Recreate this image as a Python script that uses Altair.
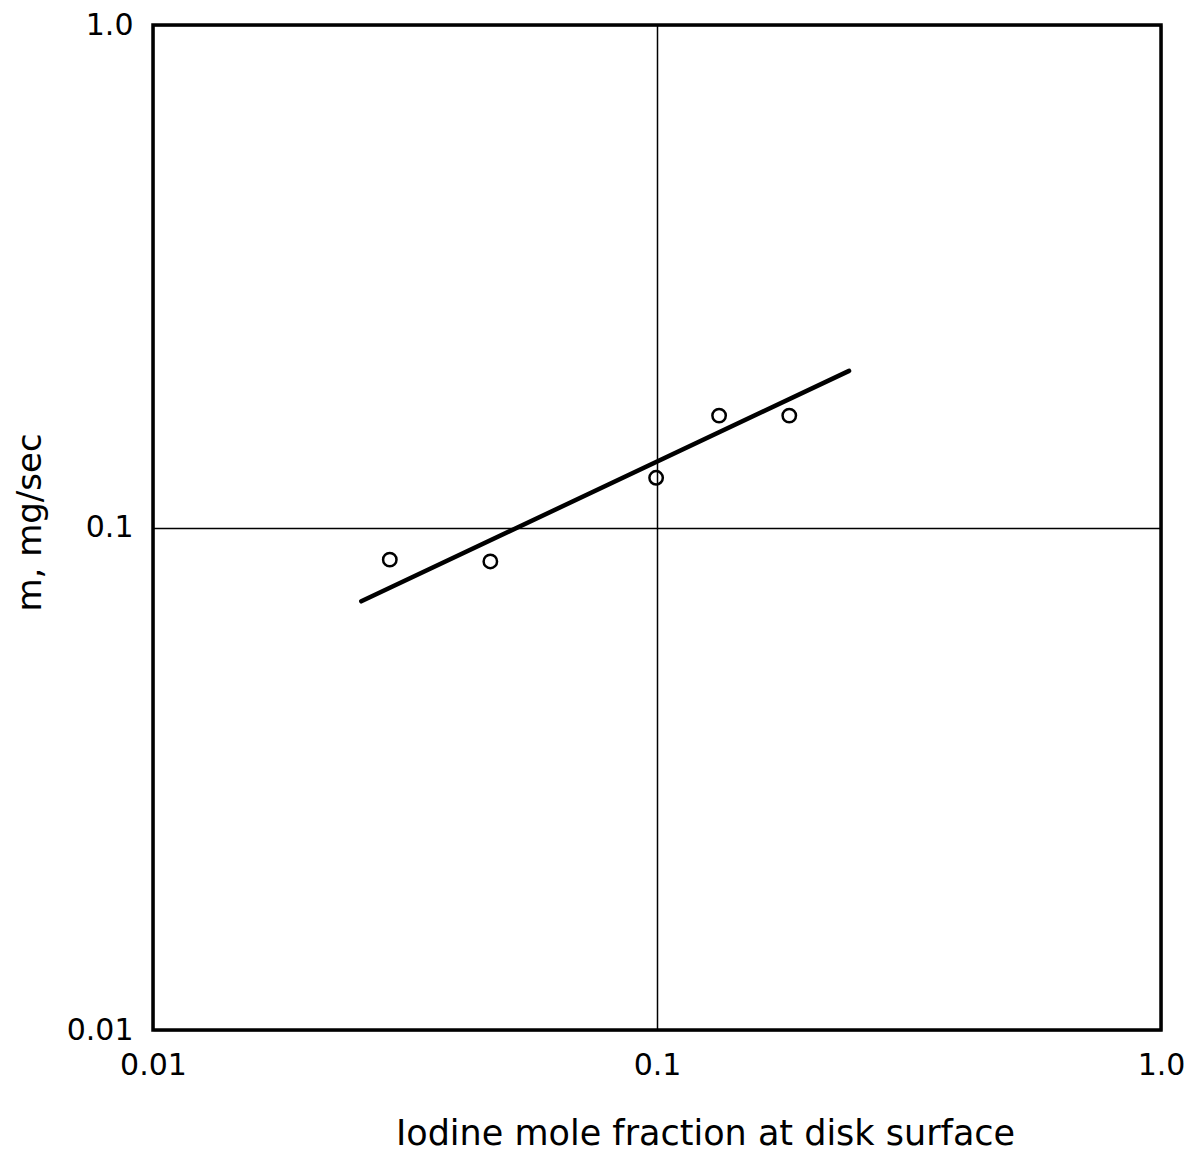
import altair as alt
import pandas as pd

# measured data points (iodine mole fraction vs m, mg/sec)
pt_x = [0.0295, 0.0467, 0.0996, 0.1328, 0.183]
pt_y = [0.0863, 0.0856, 0.1256, 0.167, 0.167]

# fitted line end points
line_x = [0.0259, 0.2405]
line_y = [0.0713, 0.205]

tick_vals = [0.01, 0.1, 1.0]

pts = pd.DataFrame({"x": pt_x, "y": pt_y})
ln = pd.DataFrame({"x": line_x, "y": line_y})

FONT = "DejaVu Sans"
lab_expr = "datum.value >= 0.99 ? '1.0' : (datum.value >= 0.099 ? '0.1' : '0.01')"

xscale = alt.Scale(type="log", domain=[0.01, 1.0])
yscale = alt.Scale(type="log", domain=[0.01, 1.0])

xaxis = alt.Axis(
    values=tick_vals, labelExpr=lab_expr, grid=True, gridColor="black",
    gridWidth=1.5, gridOpacity=1, ticks=False, domain=False,
    labelFont=FONT, labelFontSize=30, labelColor="black", labelPadding=20,
    labelFlush=False,
    title="Iodine  mole  fraction  at  disk  surface", titleFont=FONT,
    titleFontSize=35, titleFontWeight="normal", titleColor="black",
    titleX=552, titleY=114, titleBaseline="alphabetic", titleAnchor="middle",
)
yaxis = alt.Axis(
    values=tick_vals, labelExpr=lab_expr, grid=True, gridColor="black",
    gridWidth=1.5, gridOpacity=1, ticks=False, domain=False,
    labelFont=FONT, labelFontSize=30, labelColor="black", labelPadding=20,
    labelFlush=False,
    title="m,   mg/sec", titleFont=FONT, titleFontSize=34,
    titleFontWeight="normal", titleColor="black",
    titleX=-123, titleY=497, titleBaseline="middle", titleAngle=270,
)

line = alt.Chart(ln).mark_line(color="black", strokeWidth=4.5, strokeCap="round").encode(
    x=alt.X("x:Q", scale=xscale, axis=xaxis),
    y=alt.Y("y:Q", scale=yscale, axis=yaxis),
)
points = alt.Chart(pts).mark_point(
    shape="circle", filled=False, color="black", strokeWidth=2.5, size=180, opacity=1
).encode(
    x=alt.X("x:Q", scale=xscale),
    y=alt.Y("y:Q", scale=yscale),
)

chart = alt.layer(line, points).properties(
    width=1008, height=1005,
    autosize=alt.AutoSizeParams(type="none"),
    padding={"left": 145, "top": 17, "right": 23, "bottom": 126},
    background="white",
).configure_view(stroke="black", strokeWidth=3.5)

chart.save("out.html", embed_options={"renderer": "svg", "actions": False})
